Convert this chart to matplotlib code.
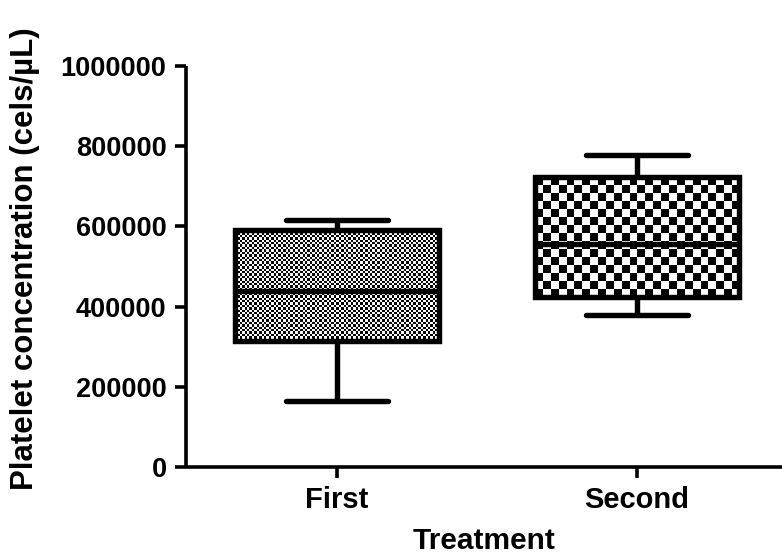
import numpy as np
import matplotlib
matplotlib.use("Agg")
import matplotlib.pyplot as plt

# ---- data ----
categories = ["First", "Second"]
whisker_low = [165000, 380000]
q1 = [315000, 425000]
median = [440000, 555000]
q3 = [590000, 722000]
whisker_high = [616000, 777000]
yticks = [0, 200000, 400000, 600000, 800000, 1000000]

plt.rcParams['font.family'] = ['Liberation Sans', 'DejaVu Sans']
plt.rcParams['font.weight'] = 'bold'

fig = plt.figure(figsize=(7.82, 5.58), dpi=100)
ax = fig.add_axes([186/782, 91/558, (782-186)/782, 401/558])

positions = [1, 2]
stats = []
for i, c in enumerate(categories):
    stats.append(dict(label=c, whislo=whisker_low[i], q1=q1[i], med=median[i],
                      q3=q3[i], whishi=whisker_high[i], fliers=[]))

lw = 3.9
bp = ax.bxp(stats, positions=positions, widths=0.68, capwidths=0.34,
            patch_artist=True, showfliers=False,
            boxprops=dict(facecolor='white', edgecolor='black', linewidth=lw, zorder=3),
            whiskerprops=dict(color='black', linewidth=lw, solid_capstyle='butt'),
            capprops=dict(color='black', linewidth=lw, solid_capstyle='round'),
            medianprops=dict(color='black', linewidth=lw, zorder=5))

ax.set_xlim(0.497, 2.483)
ax.set_ylim(0, 1000000)
fig.canvas.draw()

# checker fills (cell sizes in pixels)
cell_px = [2.4, 8.0]
for i, patch in enumerate(bp['boxes']):
    x0 = positions[i] - 0.34
    x1 = positions[i] + 0.34
    (px0, py0) = ax.transData.transform((x0, q1[i]))
    (px1, py1) = ax.transData.transform((x1, q3[i]))
    nx = max(1, int(round((px1 - px0) / cell_px[i])))
    ny = max(1, int(round((py1 - py0) / cell_px[i])))
    checker = (np.add.outer(np.arange(ny), np.arange(nx)) % 2).astype(float)
    im = ax.imshow(checker, cmap='gray', vmin=0, vmax=1, extent=(x0, x1, q1[i], q3[i]),
                   interpolation='nearest', aspect='auto', zorder=4)
    im.set_clip_path(patch)
    patch.set_facecolor('none')
    patch.set_zorder(6)

ax.set_xlim(0.497, 2.483)
ax.set_ylim(0, 1000000)

for s in ['top', 'right']:
    ax.spines[s].set_visible(False)
for s in ['left', 'bottom']:
    ax.spines[s].set_linewidth(2.6)
    ax.spines[s].set_capstyle('butt')

ax.set_yticks(yticks)
ax.set_yticklabels([str(v) for v in yticks], fontsize=19.5, fontweight='bold')
ax.set_xticks(positions)
ax.set_xticklabels(categories, fontsize=21, fontweight='bold')
ax.tick_params(axis='both', direction='out', width=2.6, length=8, color='black')
ax.tick_params(axis='y', pad=6)
ax.tick_params(axis='x', pad=6)

ax.set_ylabel("Platelet concentration (cels/µL)", fontsize=22.5, fontweight='bold')
ax.yaxis.set_label_coords(-0.245, 0.52)
ax.set_xlabel("Treatment", fontsize=21.5, fontweight='bold', labelpad=9)

fig.savefig("out.png", dpi=100)
